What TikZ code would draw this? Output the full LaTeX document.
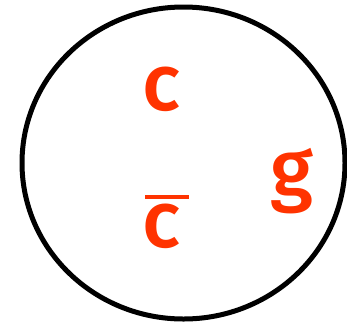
\documentclass[tikz,border=0pt]{standalone}
\usepackage{fontspec}
\setmainfont{Fira Sans}[BoldFont={Fira Sans Medium}]
\definecolor{lbl}{HTML}{FF3300}
\begin{document}
\begin{tikzpicture}[x=1pt,y=-1pt,
  lab/.style={text=lbl,anchor=base,inner sep=0pt,font=\fontsize{80}{96}\selectfont\bfseries}]
\useasboundingbox (0,0) rectangle (347,325);
\draw[line width=5pt] (183.5,163) ellipse [x radius=161.5, y radius=156];
\node[lab] (c) at (162,110) {c};
\node[lab] (cbar) at (162,247) {c};
\fill[lbl] (145,194.5) rectangle (189,199);
\node[lab] (g) at (292,196) {g};
\end{tikzpicture}
\end{document}
